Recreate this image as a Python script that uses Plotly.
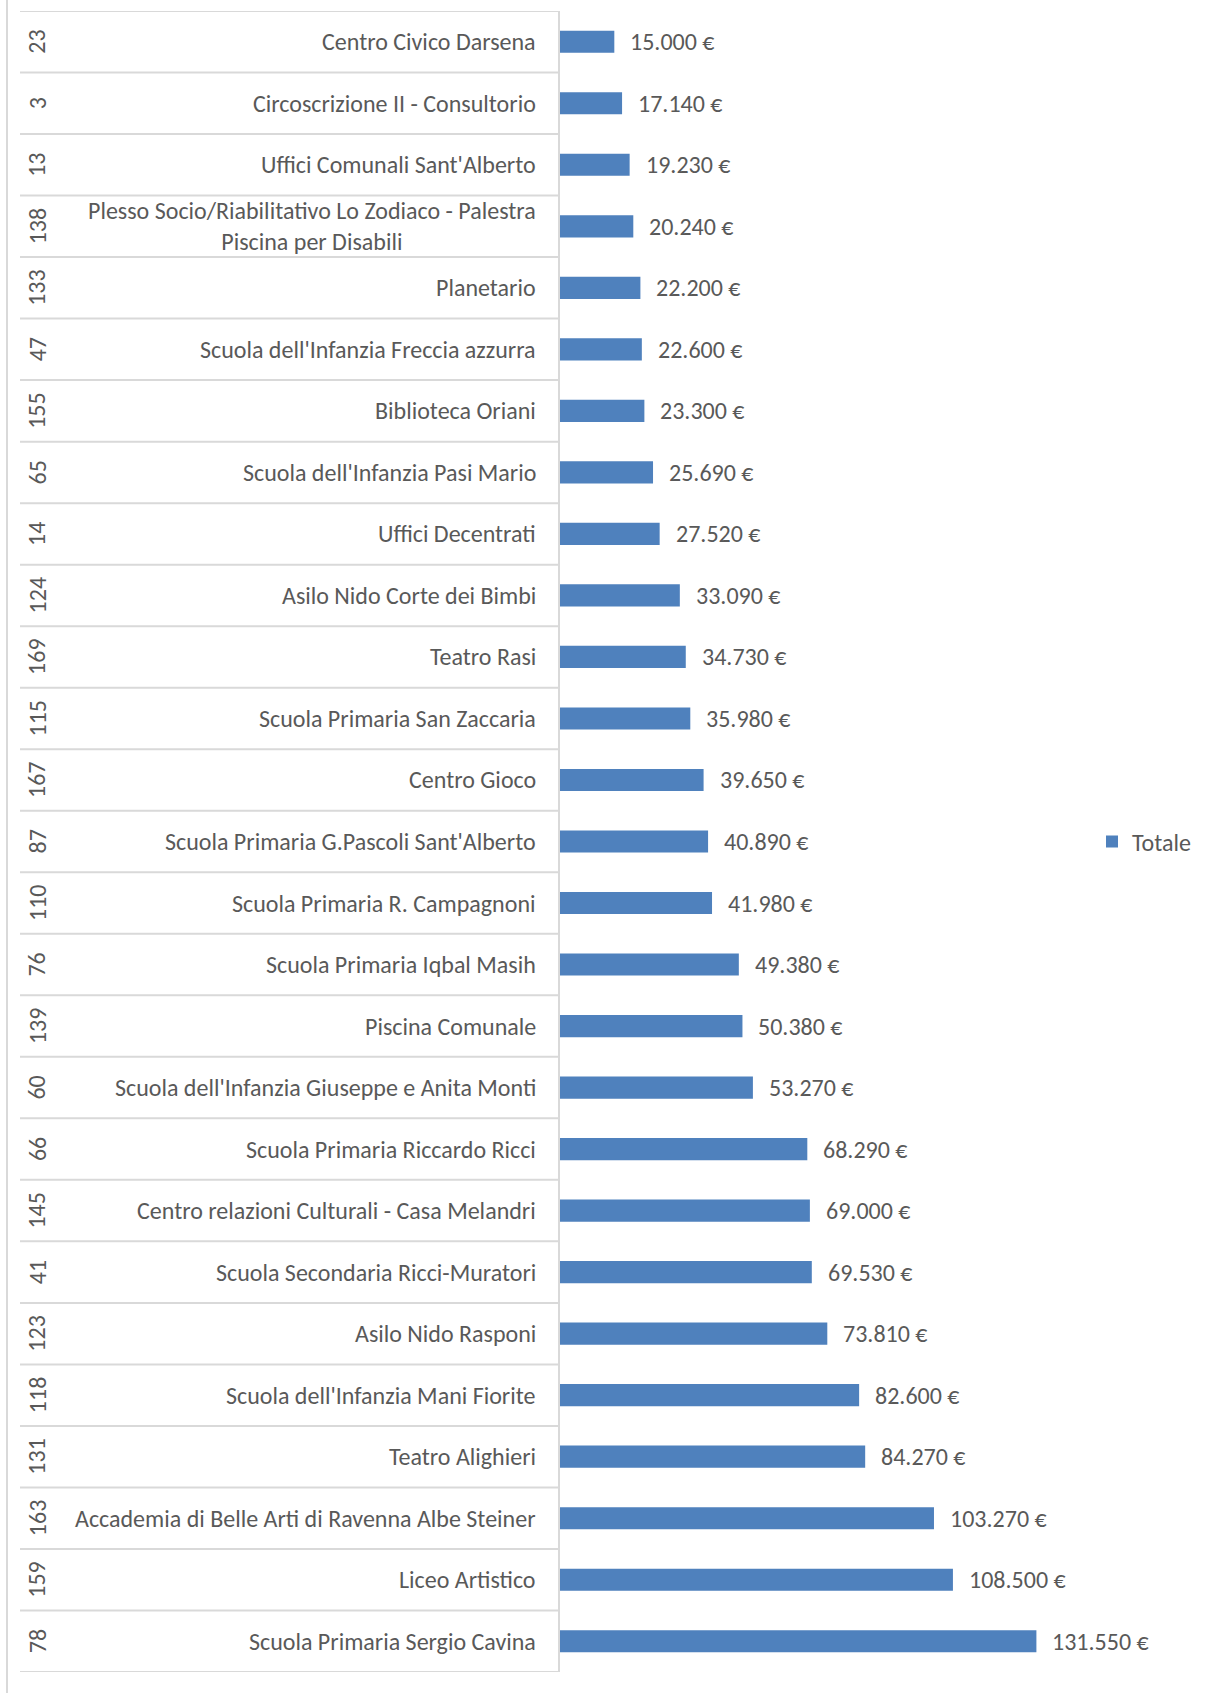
import plotly.graph_objects as go

ids = ["23", "3", "13", "138", "133", "47", "155", "65", "14", "124", "169", "115", "167",
       "87", "110", "76", "139", "60", "66", "145", "41", "123", "118", "131", "163", "159", "78"]
names = ["Centro Civico Darsena", "Circoscrizione II - Consultorio", "Uffici Comunali Sant'Alberto",
         "Plesso Socio/Riabilitativo Lo Zodiaco - Palestra<br>Piscina per Disabili", "Planetario",
         "Scuola dell'Infanzia Freccia azzurra", "Biblioteca Oriani", "Scuola dell'Infanzia Pasi Mario",
         "Uffici Decentrati", "Asilo Nido Corte dei Bimbi", "Teatro Rasi", "Scuola Primaria San Zaccaria",
         "Centro Gioco", "Scuola Primaria G.Pascoli Sant'Alberto", "Scuola Primaria R. Campagnoni",
         "Scuola Primaria Iqbal Masih", "Piscina Comunale", "Scuola dell'Infanzia Giuseppe e Anita Monti",
         "Scuola Primaria Riccardo Ricci", "Centro relazioni Culturali - Casa Melandri",
         "Scuola Secondaria Ricci-Muratori", "Asilo Nido Rasponi", "Scuola dell'Infanzia Mani Fiorite",
         "Teatro Alighieri", "Accademia di Belle Arti di Ravenna Albe Steiner", "Liceo Artistico",
         "Scuola Primaria Sergio Cavina"]
values = [15000, 17140, 19230, 20240, 22200, 22600, 23300, 25690, 27520, 33090, 34730, 35980, 39650,
          40890, 41980, 49380, 50380, 53270, 68290, 69000, 69530, 73810, 82600, 84270, 103270, 108500,
          131550]
series_name = "Totale"

FONT = "Carlito, Lato, sans-serif"
FS = 24
TXT = "#595959"
GRID = "#d9d9d9"
W, H = 1205, 1693
L, R, T, B = 560, 138, 11, 21
pw = W - L - R

cats = [f"{i}|{n}" for i, n in zip(ids, names)]

fig = go.Figure()
fig.add_trace(go.Bar(
    x=values, y=cats, orientation="h", name=series_name, width=0.36,
    marker=dict(color="#4f81bd", line=dict(width=0)),
))

def fmt(v):
    return f"{v:,}".replace(",", ".") + " €"

annotations = []
shapes = []
for c, i, n, v in zip(cats, ids, names, values):
    annotations.append(dict(x=v, y=c, xref="x", yref="y", text=fmt(v), showarrow=False,
                            xanchor="left", xshift=14, font=dict(family=FONT, size=FS, color=TXT)))
    annotations.append(dict(x=0, y=c, xref="paper", yref="y", text=n, showarrow=False,
                            xanchor="right", xshift=-22, align="center",
                            font=dict(family=FONT, size=FS, color=TXT)))
    annotations.append(dict(x=0, y=c, xref="paper", yref="y", text=i, showarrow=False,
                            xanchor="center", xshift=-(L - 37), textangle=-90,
                            font=dict(family=FONT, size=FS, color=TXT)))

x_left = (20 - L) / pw
for k in range(len(cats) + 1):
    shapes.append(dict(type="line", xref="paper", yref="y", x0=x_left, x1=0,
                       y0=k - 0.5, y1=k - 0.5, line=dict(color=GRID, width=2)))
x_border = (7 - L) / pw
shapes.append(dict(type="line", xref="paper", yref="paper", x0=x_border, x1=x_border,
                   y0=-0.05, y1=1.05, line=dict(color=GRID, width=2)))

fig.update_layout(
    width=W, height=H, autosize=False,
    margin=dict(l=L, r=R, t=T, b=B, pad=0),
    paper_bgcolor="white", plot_bgcolor="white",
    showlegend=True,
    legend=dict(xref="container", yref="container", x=1092 / W, y=1 - 842 / H,
                xanchor="left", yanchor="middle", font=dict(family=FONT, size=FS, color=TXT),
                itemwidth=30, bgcolor="rgba(0,0,0,0)"),
    xaxis=dict(range=[0, 140000], visible=False, fixedrange=True),
    yaxis=dict(type="category", categoryorder="array", categoryarray=cats,
               range=[len(cats) - 0.5, -0.5], showticklabels=False, showgrid=False,
               zeroline=False, showline=True, linecolor=GRID, linewidth=2, ticks="",
               fixedrange=True),
    annotations=annotations, shapes=shapes,
)

fig.write_html("out.html", config={"displayModeBar": False},
               post_script="document.body.style.margin='0';document.body.style.overflow='hidden';")
